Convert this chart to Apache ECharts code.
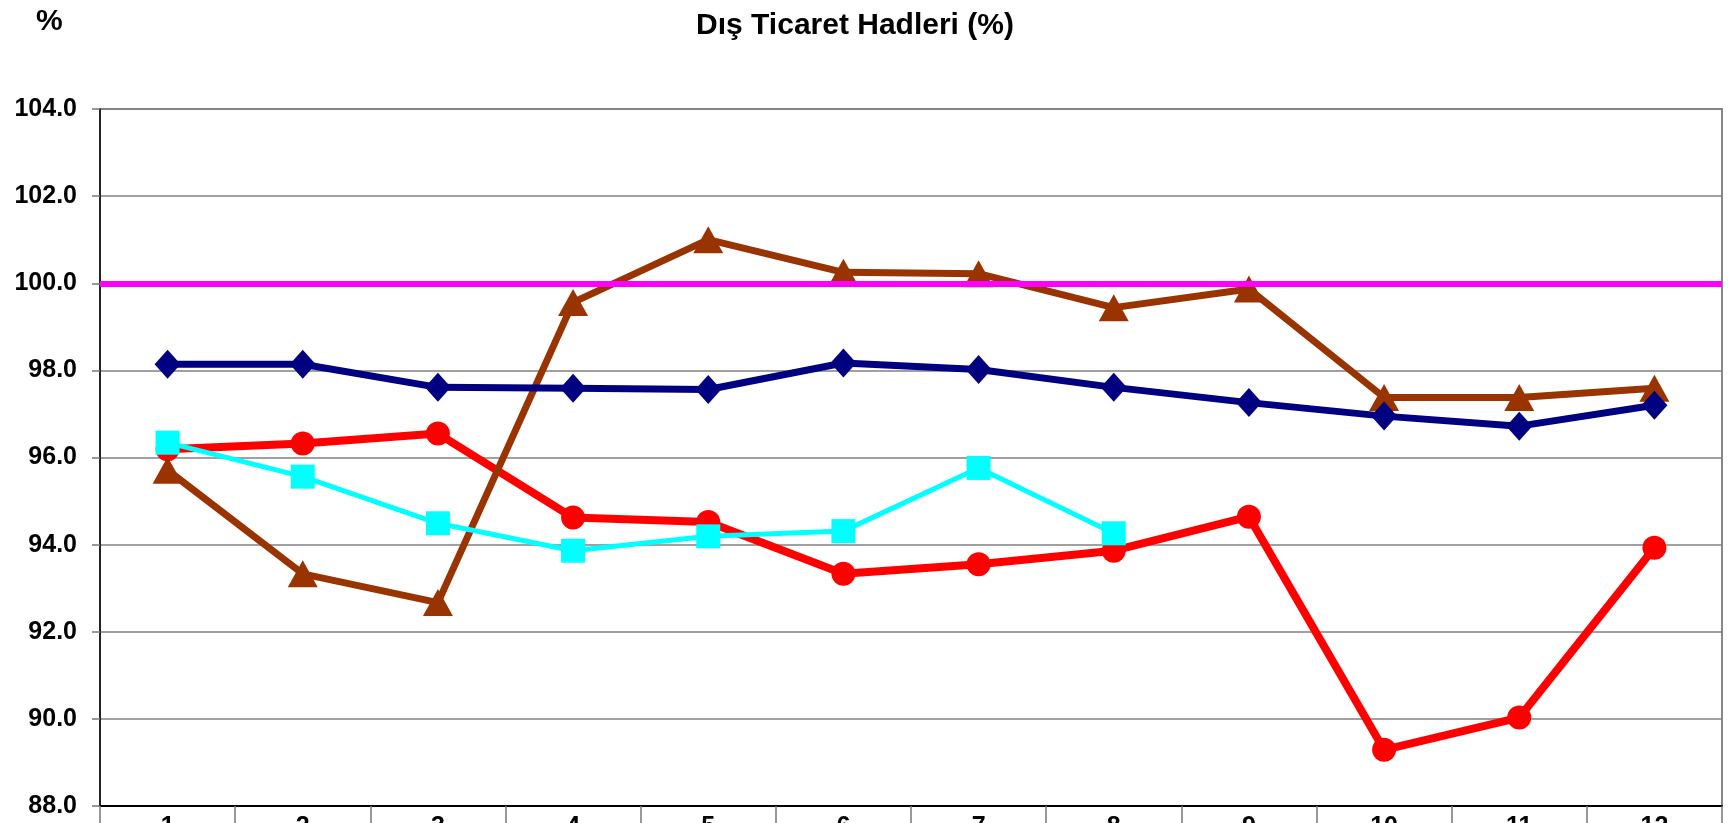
<!DOCTYPE html>
<html>
<head>
<meta charset="utf-8">
<title>Dış Ticaret Hadleri (%)</title>
<script src="https://cdn.jsdelivr.net/npm/echarts@6/dist/echarts.min.js"></script>
<style>
  html, body { margin: 0; padding: 0; background: #fff; }
  #chart { width: 1728px; height: 823px; }
</style>
</head>
<body>
<div id="chart"></div>
<script>
// aylar (1..12)
const months = ["1", "2", "3", "4", "5", "6", "7", "8", "9", "10", "11", "12"];

// seriler
const navySeries = [98.14, 98.14, 97.61, 97.59, 97.56, 98.17, 98.02, 97.61, 97.26, 96.95, 96.72, 97.20];
const redSeries = [96.19, 96.32, 96.55, 94.62, 94.52, 93.33, 93.55, 93.86, 94.64, 89.29, 90.03, 93.93];
const brownSeries = [95.71, 93.33, 92.67, 99.56, 101.0, 100.25, 100.22, 99.44, 99.87, 97.38, 97.38, 97.59];
const cyanSeries = [96.34, 95.56, 94.49, 93.86, 94.19, 94.31, 95.76, 94.26];

// referans çizgisi
const baseLine = 100;

// y ekseni
const yMin = 88;
const yMax = 104;
const yStep = 2;

const chart = echarts.init(document.getElementById("chart"));

const boldFont = "Liberation Sans, Arial, sans-serif";

chart.setOption({
  animation: false,
  backgroundColor: "#ffffff",
  title: [
    {
      text: "Dış Ticaret Hadleri (%)",
      left: 850,
      top: 6,
      textAlign: "center",
      textStyle: { fontFamily: boldFont, fontWeight: "bold", fontSize: 30, color: "#000" }
    },
    {
      text: "%",
      left: 31,
      top: 2,
      textStyle: { fontFamily: boldFont, fontWeight: "bold", fontSize: 30, color: "#000" }
    }
  ],
  grid: {
    left: 100,
    right: 6,
    top: 109,
    bottom: 17,
    outerBoundsMode: "none",
    containLabel: false,
    show: true,
    borderColor: "#888888",
    borderWidth: 2,
    backgroundColor: "#ffffff"
  },
  xAxis: {
    type: "category",
    data: months,
    boundaryGap: true,
    axisLine: { show: true, lineStyle: { color: "#000", width: 2 } },
    axisTick: { show: true, length: 30, lineStyle: { color: "#777", width: 1.5 } },
    axisLabel: {
      margin: 9,
      fontFamily: boldFont,
      fontWeight: "bold",
      fontSize: 25,
      color: "#000"
    },
    splitLine: { show: false }
  },
  yAxis: {
    type: "value",
    min: yMin,
    max: yMax,
    interval: yStep,
    axisLine: { show: true, lineStyle: { color: "#000", width: 1.5 } },
    axisTick: { show: true, length: 8, lineStyle: { color: "#777", width: 1.5 } },
    axisLabel: {
      margin: 23,
      fontFamily: boldFont,
      fontWeight: "bold",
      fontSize: 25,
      color: "#000",
      formatter: function (v) { return v.toFixed(1); }
    },
    splitLine: { show: true, lineStyle: { color: "#808080", width: 1.5 } }
  },
  series: [
    {
      name: "Seri 2",
      type: "line",
      data: redSeries,
      symbol: "circle",
      symbolSize: 24,
      lineStyle: { color: "#ff0000", width: 8 },
      itemStyle: { color: "#ff0000" },
      z: 2
    },
    {
      name: "Seri 3",
      type: "line",
      data: brownSeries,
      symbol: "triangle",
      symbolSize: [30, 27],
      lineStyle: { color: "#993300", width: 7 },
      itemStyle: { color: "#993300" },
      z: 3
    },
    {
      name: "Seri 1",
      type: "line",
      data: navySeries,
      symbol: "diamond",
      symbolSize: [26, 29],
      lineStyle: { color: "#000080", width: 7 },
      itemStyle: { color: "#000080" },
      z: 4
    },
    {
      name: "Seri 4",
      type: "line",
      data: cyanSeries,
      symbol: "rect",
      symbolSize: 24,
      lineStyle: { color: "#00ffff", width: 5 },
      itemStyle: { color: "#00ffff" },
      z: 5
    },
    {
      name: "100",
      type: "line",
      data: [],
      markLine: {
        silent: true,
        symbol: ["none", "none"],
        label: { show: false },
        lineStyle: { color: "#ff00ff", width: 6, type: "solid" },
        data: [{ yAxis: baseLine }]
      },
      z: 6
    }
  ]
});
</script>
</body>
</html>
